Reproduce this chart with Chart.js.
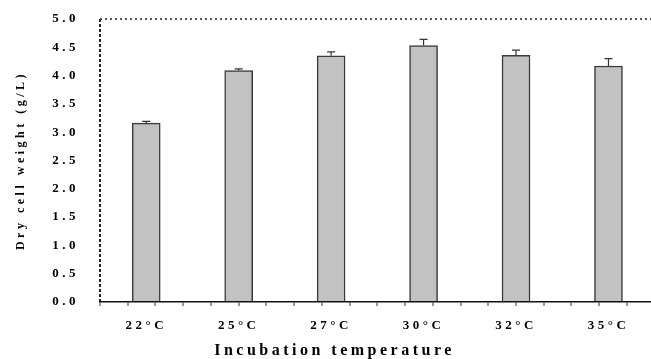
<!DOCTYPE html>
<html>
<head>
<meta charset="utf-8">
<script src="https://cdn.jsdelivr.net/npm/chart.js@4"></script>
<style>
  html, body { margin: 0; padding: 0; background: #fff; overflow: hidden; }
  #wrap { width: 651px; height: 359px; position: relative; }
</style>
</head>
<body>
<div id="wrap"><canvas id="dcwChart"></canvas></div>
<script>
// Dry cell weight at each incubation temperature
const temperatures = ['22°C', '25°C', '27°C', '30°C', '32°C', '35°C'];
const dryCellWeight = [3.16, 4.09, 4.35, 4.53, 4.36, 4.17];
const dryCellError = [0.03, 0.03, 0.07, 0.11, 0.09, 0.13];
const yTickLabels = ['0.0', '0.5', '1.0', '1.5', '2.0', '2.5', '3.0', '3.5', '4.0', '4.5', '5.0'];

const serif = '"Liberation Serif", "Times New Roman", serif';
const xMin = 0.5;
const xMax = 6.46;
const yMax = 5;
const minorStep = 0.3;
const clear = 'rgba(0,0,0,0)';

const isMinor = v => {
    const k = (v - xMin) / minorStep;
    return Math.abs(k - Math.round(k)) < 1e-6;
};

// wide letter spacing for all the axis text
const spacingPlugin = {
    id: 'spacing',
    beforeDraw(chart) {
        chart.ctx.letterSpacing = '3.5px';
    }
};

// upper error bar with a small cap on each column
const errorBarPlugin = {
    id: 'errorBars',
    afterDatasetsDraw(chart) {
        const ctx = chart.ctx;
        const yScale = chart.scales.y;
        const meta = chart.getDatasetMeta(0);
        ctx.save();
        ctx.strokeStyle = '#333';
        ctx.lineWidth = 1.2;
        meta.data.forEach((bar, i) => {
            const top = yScale.getPixelForValue(dryCellWeight[i] + dryCellError[i]);
            ctx.beginPath();
            ctx.moveTo(bar.x, bar.y);
            ctx.lineTo(bar.x, top);
            ctx.moveTo(bar.x - 4, top);
            ctx.lineTo(bar.x + 4, top);
            ctx.stroke();
        });
        ctx.restore();
    }
};

new Chart(document.getElementById('dcwChart'), {
    type: 'bar',
    data: {
        datasets: [{
            label: 'Dry cell weight',
            data: dryCellWeight.map((v, i) => ({ x: i + 1, y: v })),
            backgroundColor: '#c2c2c2',
            borderColor: '#3a3a3a',
            borderWidth: 1.5,
            barThickness: 28
        }]
    },
    options: {
        responsive: true,
        maintainAspectRatio: false,
        animation: false,
        layout: { padding: { top: 19, right: -18, left: 0, bottom: 0 } },
        plugins: {
            legend: { display: false },
            tooltip: { enabled: false },
            title: {
                display: true,
                position: 'bottom',
                text: 'Incubation temperature',
                color: '#000',
                font: { family: serif, size: 16, weight: 'bold', lineHeight: 1 },
                padding: 0
            }
        },
        scales: {
            x: {
                type: 'linear',
                position: 'bottom',
                offset: false,
                min: xMin,
                max: xMax,
                afterBuildTicks(scale) {
                    const vals = [];
                    for (let k = 0; xMin + k * minorStep <= xMax; k++) {
                        vals.push(Math.round((xMin + k * minorStep) * 100) / 100);
                    }
                    temperatures.forEach((t, i) => {
                        if (!vals.includes(i + 1)) vals.push(i + 1);
                    });
                    vals.sort((a, b) => a - b);
                    scale.ticks = vals.map(v => ({ value: v }));
                },
                afterFit(scale) { scale.height = 41; },
                ticks: {
                    autoSkip: false,
                    maxRotation: 0,
                    padding: 12,
                    color: '#000',
                    font: { family: serif, size: 13, weight: 'bold' },
                    callback(v) {
                        const i = Math.round(v);
                        if (Math.abs(v - i) < 1e-6 && i >= 1 && i <= temperatures.length) {
                            return temperatures[i - 1];
                        }
                        return '';
                    }
                },
                grid: {
                    // only the left edge line is drawn inside the plot, dashed
                    offset: false,
                    color: c => (c.tick && Math.abs(c.tick.value - xMin) < 1e-6) ? '#222' : clear,
                    lineWidth: 2,
                    tickLength: 4,
                    tickWidth: 1,
                    tickColor: c => (c.tick && isMinor(c.tick.value)) ? '#333' : clear
                },
                border: { color: '#111', width: 1.5, dash: [3, 2] }
            },
            y: {
                min: 0,
                max: yMax,
                afterFit(scale) {
                    scale.width = 100;
                    scale.paddingTop = 0;
                    scale.paddingBottom = 0;
                },
                ticks: {
                    stepSize: 0.5,
                    padding: 21,
                    color: '#000',
                    font: { family: serif, size: 13, weight: 'bold' },
                    callback: v => yTickLabels[Math.round(v / 0.5)]
                },
                grid: {
                    // dotted frame line along the top
                    drawTicks: false,
                    color: c => (c.tick && c.tick.value === yMax) ? '#555' : clear,
                    lineWidth: 2
                },
                border: { display: false, dash: [2, 3] },
                title: {
                    display: true,
                    text: 'Dry cell weight (g/L)',
                    color: '#000',
                    font: { family: serif, size: 12, weight: 'bold' },
                    padding: { top: 14, bottom: 0 }
                }
            }
        }
    },
    plugins: [spacingPlugin, errorBarPlugin]
});
</script>
</body>
</html>
